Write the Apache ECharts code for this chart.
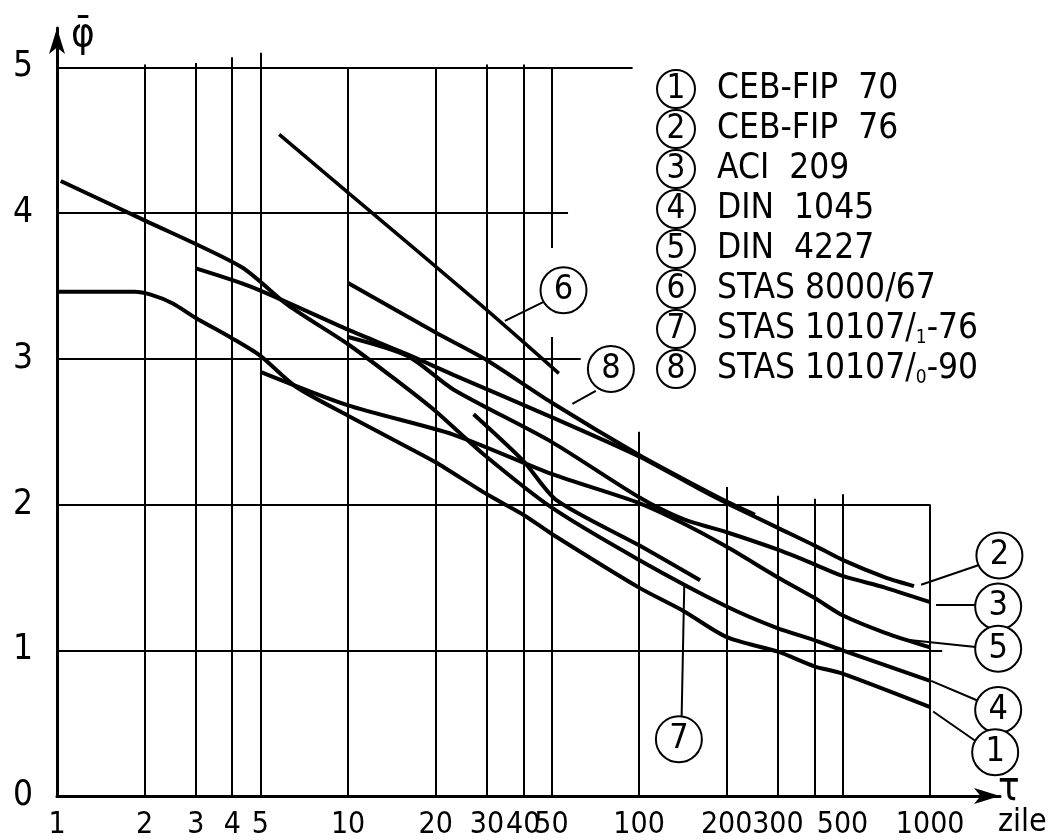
<!DOCTYPE html>
<html lang="ro">
<head>
<meta charset="utf-8">
<script src="https://cdn.jsdelivr.net/npm/echarts@6.0.0/dist/echarts.min.js"></script>
</head>
<body style="margin:0;background:#fff">
<div id="main" style="width:1056px;height:840px"></div>
<script type="text/javascript">
var FONT = "'DejaVu Sans Condensed','DejaVu Sans',sans-serif";

// axe
var xTicks = [1, 2, 3, 4, 5, 10, 20, 30, 40, 50, 100, 200, 300, 500, 1000];
var yTicks = [0, 1, 2, 3, 4, 5];

// legenda
var names = ['CEB-FIP 70', 'CEB-FIP 76', 'ACI 209', 'DIN 1045', 'DIN 4227',
             'STAS 8000/67', 'STAS 10107/1-76', 'STAS 10107/0-90'];
var legendText = ['CEB-FIP  70', 'CEB-FIP  76', 'ACI  209', 'DIN  1045', 'DIN  4227',
                  'STAS 8000/67', 'STAS 10107/_1-76', 'STAS 10107/_0-90'];

// curbe [zile, phi]
var c1 = [[1, 3.46], [1.85, 3.46], [2.1, 3.44], [2.5, 3.38], [3, 3.28], [4, 3.14], [5, 3.02],
          [6.6, 2.81], [10, 2.61], [16.5, 2.38], [20, 2.29], [30, 2.07], [40, 1.93], [50, 1.80],
          [100, 1.43], [142, 1.27], [200, 1.09], [300, 0.99], [400, 0.89], [500, 0.84], [1000, 0.61]];
var c2 = [[3, 3.62], [4.7, 3.49], [10, 3.20], [16, 3.03], [23, 2.89], [50, 2.60], [100, 2.33],
          [160, 2.11], [200, 2.01], [300, 1.84], [400, 1.72], [500, 1.62], [700, 1.50], [880, 1.44]];
var c3 = [[10, 3.15], [16, 3.02], [23, 2.79], [50, 2.43], [100, 2.05], [142, 1.90], [200, 1.81],
          [300, 1.69], [400, 1.59], [500, 1.51], [700, 1.43], [1000, 1.33]];
var c4 = [[1.03, 4.22], [2, 3.95], [4.3, 3.63], [6.2, 3.37], [10, 3.10], [14.5, 2.86], [20, 2.64],
          [29, 2.35], [50, 1.98], [100, 1.62], [200, 1.30], [300, 1.15], [400, 1.07], [500, 1.00], [1000, 0.79]];
var c5 = [[5, 2.91], [10, 2.68], [23, 2.48], [50, 2.21], [100, 2.01], [142, 1.87], [200, 1.71],
          [300, 1.50], [400, 1.36], [500, 1.24], [700, 1.12], [1000, 1.02]];
var c6 = [[5.8, 4.54], [10, 4.14], [28.6, 3.37], [53, 2.90]];
var c7 = [[27, 2.62], [40, 2.30], [52, 2.03], [100, 1.72], [162, 1.48]];
var c8 = [[10, 3.52], [20, 3.18], [30, 2.99], [50, 2.70], [100, 2.34], [160, 2.12], [200, 2.02], [250, 1.93]];
var curves = [c1, c2, c3, c4, c5, c6, c7, c8];

// reteaua desenata de mana: orizontale [phi, pana la zile], verticale [zile, de la, pana la]
var hGrid = [[5, 95], [4, 57], [3, 63], [2, 1000], [1, 1100]];
var vGrid = [[2, 0, 5.02], [3, 0, 5.03], [4, 0, 5.07], [5, 0, 5.1], [10, 0, 5], [20, 0, 5],
             [30, 0, 5.02], [40, 0, 5.02], [50, 0, 3.15], [50, 3.76, 5], [100, 0, 2.5],
             [200, 0, 2.12], [300, 0, 2.06], [400, 0, 2.04], [500, 0, 2.07], [1000, 0, 2]];

// cercuri cu numere pe grafic si liniile lor
var callNo = [6, 8, 7, 2, 3, 5, 4, 1];
var callAt = [[55, 3.47], [80, 2.93], [137, 0.39], [1730, 1.65], [1713, 1.30], [1713, 1.01], [1713, 0.59], [1673, 0.30]];
var callLead = [[[47, 3.39], [34.6, 3.26]], [[71, 2.78], [59, 2.69]], [[140, 0.54], [143, 1.46]],
                [[1498, 1.59], [931, 1.45]], [[1462, 1.31], [1048, 1.31]], [[1462, 1.02], [847, 1.07]],
                [[1474, 0.65], [1008, 0.79]], [[1474, 0.36], [1024, 0.58]]];

var myChart = echarts.init(document.getElementById('main'));

var gridLines = [];
hGrid.forEach(function (h) { gridLines.push([{coord: [1, h[0]]}, {coord: [h[1], h[0]]}]); });
vGrid.forEach(function (v) { gridLines.push([{coord: [v[0], v[1]]}, {coord: [v[0], v[2]]}]); });

var leadLines = callLead.map(function (l) { return [{coord: l[0]}, {coord: l[1]}]; });
var callPoints = callNo.map(function (n, i) { return {coord: callAt[i], value: n}; });

var series = curves.map(function (d, i) {
    return {
        name: names[i],
        type: 'line',
        data: d,
        showSymbol: false,
        symbol: 'none',
        smooth: 0.25,
        lineStyle: {color: '#000', width: i === 5 ? 3.5 : 4},
        itemStyle: {color: '#000'},
        emphasis: {disabled: true},
        z: 3
    };
});

series.push({
    name: 'retea',
    type: 'line',
    data: [],
    silent: true,
    z: 2,
    markLine: {
        silent: true,
        symbol: ['none', 'none'],
        label: {show: false},
        lineStyle: {color: '#000', width: 2, type: 'solid'},
        emphasis: {disabled: true},
        data: gridLines.concat(leadLines)
    },
    markPoint: {
        silent: true,
        symbol: 'circle',
        symbolSize: 46,
        itemStyle: {color: '#fff', borderColor: '#000', borderWidth: 2},
        label: {show: true, position: 'inside', formatter: '{c}', color: '#000', fontSize: 34, fontFamily: FONT},
        data: callPoints
    }
});

var option = {
    animation: false,
    backgroundColor: '#fff',
    grid: {left: 57, right: 56, top: 28, bottom: 40},
    legend: {
        orient: 'vertical',
        left: 645,
        top: 64,
        itemGap: 0,
        itemWidth: 1,
        itemHeight: 1,
        selectedMode: false,
        itemStyle: {opacity: 0},
        lineStyle: {opacity: 0},
        data: names,
        formatter: function (n) {
            var i = names.indexOf(n);
            var t = legendText[i].replace(/_(\d)/, '}{s|$1}{u|');
            return '{c|' + (i + 1) + '}{t|' + t + '}';
        },
        textStyle: {
            color: '#000',
            fontFamily: FONT,
            rich: {
                c: {width: 38, height: 38, lineHeight: 38, align: 'center', borderColor: '#000', borderWidth: 2,
                    borderRadius: 20, fontSize: 33, fontFamily: FONT, color: '#000'},
                t: {fontSize: 35, fontFamily: FONT, color: '#000', padding: [0, 0, 0, 22]},
                u: {fontSize: 35, fontFamily: FONT, color: '#000'},
                s: {fontSize: 19, fontFamily: FONT, color: '#000', verticalAlign: 'bottom', padding: [16, 0, 0, 0]}
            }
        }
    },
    xAxis: {
        type: 'log',
        logBase: 10,
        min: 1,
        max: 1738,
        axisLine: {show: true, lineStyle: {color: '#000', width: 3}, symbol: ['none', 'arrow'], symbolSize: [12, 26]},
        axisTick: {show: false},
        splitLine: {show: false},
        minorSplitLine: {show: false},
        axisLabel: {
            customValues: xTicks,
            formatter: function (v) { return String(Math.round(v)); },
            color: '#000', fontSize: 30, fontFamily: FONT, margin: 14
        },
        name: '{t|τ}\n{z|zile}',
        nameLocation: 'end',
        nameGap: -2,
        nameTextStyle: {
            align: 'left',
            padding: [22, 0, 0, 0],
            rich: {
                t: {fontSize: 40, fontFamily: FONT, color: '#000', lineHeight: 32},
                z: {fontSize: 32, fontFamily: FONT, color: '#000', lineHeight: 34}
            }
        }
    },
    yAxis: {
        type: 'value',
        min: 0,
        max: 5.27,
        interval: 1,
        axisLine: {show: true, lineStyle: {color: '#000', width: 3}, symbol: ['none', 'arrow'], symbolSize: [12, 26]},
        axisTick: {show: false},
        splitLine: {show: false},
        axisLabel: {customValues: yTicks, color: '#000', fontSize: 35, fontFamily: FONT, margin: 24},
        name: 'φ\u0304',
        nameLocation: 'end',
        nameGap: 12,
        nameTextStyle: {align: 'left', verticalAlign: 'top', color: '#000', fontSize: 40, fontFamily: FONT, padding: [0, 0, 0, 14]}
    },
    series: series
};

myChart.setOption(option);
</script>
</body>
</html>
